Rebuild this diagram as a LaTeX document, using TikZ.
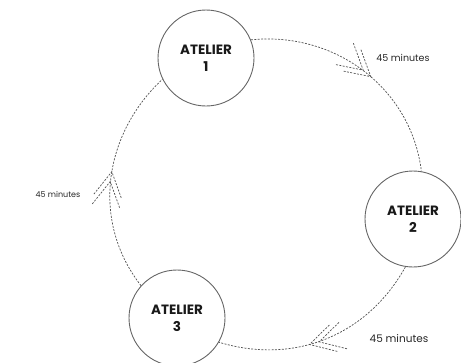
\documentclass[tikz,border=0pt]{standalone}
\usepackage{fontspec}
\setmainfont{Poppins}
\usetikzlibrary{decorations.markings}
\definecolor{ringgray}{HTML}{666666}
\definecolor{dashgray}{HTML}{505050}
\tikzset{
  atelier/.style={circle, draw=ringgray, line width=0.9pt, minimum size=96pt, inner sep=0pt,
    align=center, font=\fontsize{13.5}{17}\selectfont\bfseries, text=black!90},
  chev/.style={draw=dashgray, line width=0.7pt, dash pattern=on 2pt off 1.4pt},
  flow/.style={draw=dashgray, line width=0.7pt, dash pattern=on 2pt off 1.4pt,
    postaction={decorate, decoration={markings, mark=at position #1 with {
      \draw[chev] (-25pt,14pt) -- (0pt,0pt) -- (-25pt,-14pt);
      \draw[chev] (-35pt,14pt) -- (-10pt,0pt) -- (-35pt,-14pt);
    }}}},
  lbl/.style={text=black!85, inner sep=0pt}
}
\begin{document}
\begin{tikzpicture}[x=1pt,y=-1pt]
  \useasboundingbox (0,0) rectangle (461,362);
  \node[atelier] (a1) at (206,58) {ATELIER\\1};
  \node[atelier] (a2) at (413,219) {ATELIER\\2};
  \node[atelier] (a3) at (177,318) {ATELIER\\3};
  \draw[flow=0.54] (a1.22) to[out=6,in=97] (a2.80);
  \draw[flow=0.58] (a2.-99) to[out=-119,in=-17] (a3.-30);
  \draw[flow=0.53] (a3.138) to[out=128,in=223] (a1.206);
  \node[lbl, font=\fontsize{9.5}{11}\selectfont] (t1) at (403,58) {45 minutes};
  \node[lbl, font=\fontsize{10.5}{13}\selectfont] (t2) at (399,339) {45 minutes};
  \node[lbl, font=\fontsize{8}{10}\selectfont] (t3) at (58,194) {45 minutes};
\end{tikzpicture}
\end{document}
